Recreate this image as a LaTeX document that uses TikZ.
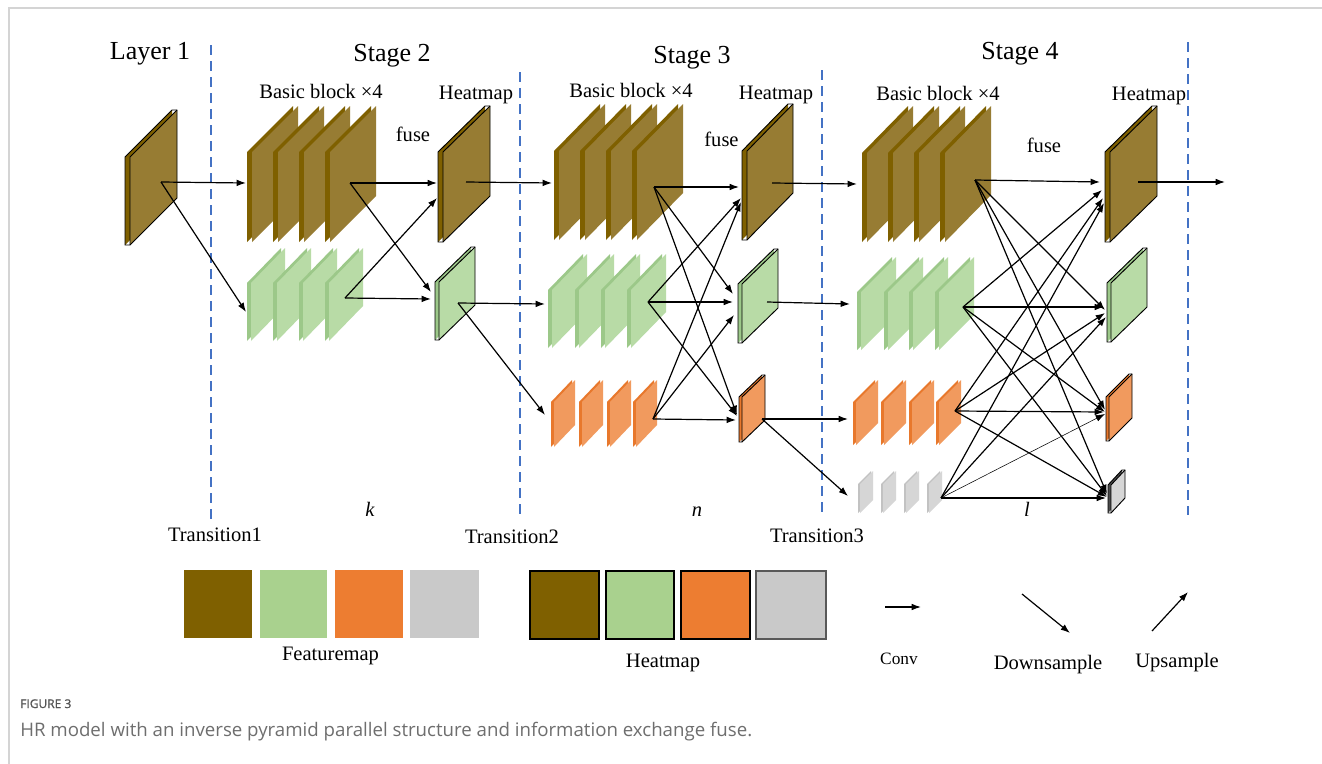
\documentclass[tikz,border=0pt]{standalone}
\usepackage{fontspec}
\setmainfont{Liberation Serif}
\newfontfamily\capfont{Open Sans}
\newfontfamily\capfontb[FakeBold=1.2]{Open Sans}
\usetikzlibrary{arrows.meta}
\definecolor{brF}{HTML}{977C33}
\definecolor{brS}{HTML}{7F6000}
\definecolor{grF}{HTML}{B8DBA6}
\definecolor{grS}{HTML}{9CC889}
\definecolor{orF}{HTML}{F19A5E}
\definecolor{orS}{HTML}{E8782C}
\definecolor{gyF}{HTML}{D6D6D6}
\definecolor{gyS}{HTML}{C2C2C2}
\definecolor{brL}{HTML}{7F6000}
\definecolor{grL}{HTML}{A9D18E}
\definecolor{orL}{HTML}{ED7D31}
\definecolor{gyL}{HTML}{C9C9C9}
\definecolor{dashblue}{HTML}{4472C4}
\definecolor{framegray}{HTML}{D4D4D4}
\definecolor{capgray}{HTML}{6E6E6E}
\definecolor{figgray}{HTML}{555555}

% feature-map plate: x0, ybottom, width, height, rise, thickness, face, strip
\newcommand{\fmplate}[8]{%
  \fill[#8] (#1,#2) -- ++(0,-#4) -- ++(#3-#6,-#5) -- ++(0,#4) -- cycle;
  \fill[#7] (#1+#6,#2) -- ++(0,-#4) -- ++(#3-#6,-#5) -- ++(0,#4) -- cycle;
}
% heatmap plate with black outline
\newcommand{\hmplate}[8]{%
  \fmplate{#1}{#2}{#3}{#4}{#5}{#6}{#7}{#8}
  \draw[hmline] (#1,#2) -- ++(0,-#4) -- ++(#3-#6,-#5) -- ++(#6,0) -- ++(0,#4) -- (#1+#6,#2) -- cycle;
  \draw[hmline] (#1+#6,#2) -- ++(0,-#4) -- ++(#3-#6,-#5);
}

\tikzset{
  hmline/.style={draw=black, line width=0.7pt, line join=miter},
  arr/.style={-{Latex[length=7pt,width=5pt]}, line width=0.9pt},
  dashline/.style={draw=dashblue, line width=0.9pt, dash pattern=on 7.5pt off 4.5pt},
  ttl/.style={font=\fontsize{19.5}{22}\selectfont, inner sep=0pt, anchor=base},
  lbl/.style={font=\fontsize{15.4}{18}\selectfont, inner sep=0pt, anchor=base},
  small/.style={font=\fontsize{13}{15}\selectfont, inner sep=0pt, anchor=base},
}

\begin{document}
\begin{tikzpicture}[x=0.75pt,y=-0.75pt]
\fill[white] (0,0) rectangle (1322,764);
\useasboundingbox (0,0) rectangle (1322,764);
\draw[framegray, line width=1.5pt] (8.5,764) -- (8.5,7.5) -- (1322,7.5);

% dashed stage separators
\draw[dashline] (211,45) -- (211,521);
\draw[dashline] (520,72) -- (520,517);
\draw[dashline] (822,70) -- (822,515);
\draw[dashline] (1188,42) -- (1188,515);

% ---------- Layer 1 ----------
\hmplate{125}{245}{52}{88}{47}{5}{brF}{brS}

% ---------- Stage 2 ----------
\foreach \xx in {247,273,299,325} {\fmplate{\xx}{242}{51}{90}{46}{5}{brF}{brS}}
\foreach \xx in {247,273,299,325} {\fmplate{\xx}{341}{38}{58}{35}{4}{grF}{grS}}
\hmplate{438}{242}{52}{90}{46}{5}{brF}{brS}
\hmplate{435}{340}{40}{58}{35}{4}{grF}{grS}

% ---------- Stage 3 ----------
\foreach \xx in {554,580,606,632} {\fmplate{\xx}{240}{51}{89}{47}{5}{brF}{brS}}
\foreach \xx in {548,575,601,627} {\fmplate{\xx}{348}{39}{58}{36}{4}{grF}{grS}}
\foreach \xx in {551,579,607,633} {\fmplate{\xx}{447}{24}{45}{22}{3}{orF}{orS}}
\hmplate{742}{240}{51}{89}{47}{5}{brF}{brS}
\hmplate{738}{343}{40}{59}{35}{4}{grF}{grS}
\hmplate{739}{442}{26}{45}{22}{3}{orF}{orS}

% ---------- Stage 4 ----------
\foreach \xx in {862,888,914,940} {\fmplate{\xx}{242}{51}{89}{47}{5}{brF}{brS}}
\foreach \xx in {857,884,909,935} {\fmplate{\xx}{350}{39}{58}{35}{4}{grF}{grS}}
\foreach \xx in {853,881,909,936} {\fmplate{\xx}{445}{25}{43}{22}{3}{orF}{orS}}
\foreach \xx in {858,881,904,927} {\fmplate{\xx}{513}{15}{29}{13}{2}{gyF}{gyS}}
\hmplate{1105}{242}{52}{90}{46}{5}{brF}{brS}
\hmplate{1107}{342}{40}{59}{35}{4}{grF}{grS}
\hmplate{1106}{441}{26}{44}{23}{3}{orF}{orS}
\hmplate{1108}{513}{17}{28}{15}{3}{gyF}{black!70}

% ---------- connector end points ----------
\coordinate (L1c) at (161,182);
\coordinate (s2bIn) at (246,183);
\coordinate (s2gIn) at (246,312);
\coordinate (s2bOut) at (350,183);
\coordinate (s2gOut) at (345,298);
\coordinate (h2bIn) at (437,183);
\coordinate (h2bUp) at (437,198);
\coordinate (h2gIn) at (431,299);
\coordinate (h2gDn) at (431,292);
\coordinate (h2bc) at (466,182);
\coordinate (h2gc) at (458,303);

\coordinate (s3bIn) at (552,183);
\coordinate (s3gIn) at (545,304);
\coordinate (s3oIn) at (545,415);
\coordinate (s3b) at (654,187);
\coordinate (s3g) at (648,302);
\coordinate (s3o) at (653,419);
\coordinate (h3bB) at (739,187);
\coordinate (h3bG) at (741,198);
\coordinate (h3bO) at (741,202);
\coordinate (h3gB) at (733,294);
\coordinate (h3gG) at (733,302);
\coordinate (h3gO) at (734,315);
\coordinate (h3oB) at (737,415);
\coordinate (h3oG) at (737,416);
\coordinate (h3oO) at (736,420);
\coordinate (h3bc) at (772,183);
\coordinate (h3gc) at (767,302);
\coordinate (h3oc) at (762,419);

\coordinate (s4bIn) at (857,184);
\coordinate (s4gIn) at (850,304);
\coordinate (s4oIn) at (848,419);
\coordinate (s4yIn) at (848,496);
\coordinate (s4b) at (975,180);
\coordinate (s4g) at (963,307);
\coordinate (s4o) at (955,411);
\coordinate (s4y) at (941,498);
\coordinate (tb1) at (1100,182);
\coordinate (tb2) at (1102,190);
\coordinate (tb3) at (1103,198);
\coordinate (tb4) at (1104,203);
\coordinate (tg1) at (1105,310);
\coordinate (tg2) at (1104,307);
\coordinate (tg3) at (1105,313);
\coordinate (tg4) at (1106,317);
\coordinate (to1) at (1105,410);
\coordinate (to2) at (1105,412);
\coordinate (to3) at (1104,412);
\coordinate (to4) at (1105,414);
\coordinate (ty1) at (1107,494);
\coordinate (ty2) at (1107,496);
\coordinate (ty3) at (1107,497);
\coordinate (ty4) at (1106,498);
\coordinate (h4bc) at (1138,182);
\coordinate (outE) at (1225,182);

% ---------- connectors ----------
\draw[arr] (L1c) -- (s2bIn);
\draw[arr] (L1c) -- (s2gIn);
\draw[arr] (s2bOut) -- (h2bIn);
\draw[arr] (s2bOut) -- (h2gDn);
\draw[arr] (s2gOut) -- (h2gIn);
\draw[arr] (s2gOut) -- (h2bUp);
\draw[arr] (h2bc) -- (s3bIn);
\draw[arr] (h2gc) -- (s3gIn);
\draw[arr] (h2gc) -- (s3oIn);

\draw[arr] (s3b) -- (h3bB);
\draw[arr] (s3b) -- (h3gB);
\draw[arr] (s3b) -- (h3oB);
\draw[arr] (s3g) -- (h3bG);
\draw[arr] (s3g) -- (h3gG);
\draw[arr] (s3g) -- (h3oG);
\draw[arr] (s3o) -- (h3bO);
\draw[arr] (s3o) -- (h3gO);
\draw[arr] (s3o) -- (h3oO);
\draw[arr] (h3bc) -- (s4bIn);
\draw[arr] (h3gc) -- (s4gIn);
\draw[arr] (h3oc) -- (s4oIn);
\draw[arr] (h3oc) -- (s4yIn);

\draw[arr] (s4b) -- (tb1);
\draw[arr] (s4b) -- (tg1);
\draw[arr] (s4b) -- (to1);
\draw[arr] (s4b) -- (ty1);
\draw[arr] (s4g) -- (tb2);
\draw[arr] (s4g) -- (tg2);
\draw[arr] (s4g) -- (to2);
\draw[arr] (s4g) -- (ty2);
\draw[arr] (s4o) -- (tb3);
\draw[arr] (s4o) -- (tg3);
\draw[arr] (s4o) -- (to3);
\draw[arr] (s4o) -- (ty3);
\draw[arr] (s4y) -- (tb4);
\draw[arr] (s4y) -- (tg4);
\draw[arr, line width=0.4pt] (s4y) -- (to4);
\draw[arr] (s4y) -- (ty4);
\draw[arr] (h4bc) -- (outE);

% ---------- labels ----------
\node[ttl] (tLayer) at (150,59) {Layer 1};
\node[ttl] (tS2) at (392,61) {Stage 2};
\node[ttl] (tS3) at (692,63) {Stage 3};
\node[ttl] (tS4) at (1020,59) {Stage 4};
\node[lbl] (bb2) at (321,98.5) {Basic block ×4};
\node[lbl] (bb3) at (631,97) {Basic block ×4};
\node[lbl] (bb4) at (938,100.7) {Basic block ×4};
\node[lbl] (hm2) at (476,99.3) {Heatmap};
\node[lbl] (hm3) at (776,99.3) {Heatmap};
\node[lbl] (hm4) at (1149,100) {Heatmap};
\node[lbl] (fu2) at (413,141.7) {fuse};
\node[lbl] (fu3) at (721.5,146.7) {fuse};
\node[lbl] (fu4) at (1044,152.7) {fuse};
\node[lbl] (kk) at (370,516) {\textit{k}};
\node[lbl] (nn) at (697,516.7) {\textit{n}};
\node[lbl] (ll) at (1027,516.7) {\textit{l}};
\node[lbl] (tr1) at (215,541) {Transition1};
\node[lbl] (tr2) at (512,543.3) {Transition2};
\node[lbl] (tr3) at (817,542.7) {Transition3};

% ---------- legend ----------
\fill[brL] (184,570) rectangle (252,637.7);
\fill[grL] (260,570) rectangle (327,637.7);
\fill[orL] (335,570) rectangle (403,637.7);
\fill[gyL] (410,570) rectangle (479,637.7);
\node[lbl] (lfm) at (330.5,660) {Featuremap};
\draw[fill=brL, line width=1pt] (530,571) rectangle (599,639);
\draw[fill=grL, line width=1pt] (606,571) rectangle (674,639);
\draw[fill=orL, line width=1pt] (681,571) rectangle (750,639);
\draw[fill=gyL, draw=black!65, line width=1.3pt] (756,571) rectangle (826,639);
\node[lbl] (lhm) at (663,667) {Heatmap};

\coordinate (c1) at (885,607);
\coordinate (c2) at (921,607);
\coordinate (d1) at (1022,594);
\coordinate (d2) at (1070,633);
\coordinate (u1) at (1152,631);
\coordinate (u2) at (1188,592);
\draw[arr] (c1) -- (c2);
\draw[arr] (d1) -- (d2);
\draw[arr] (u1) -- (u2);
\node[small] (lconv) at (899,664) {Conv};
\node[lbl] (ldown) at (1048,669) {Downsample};
\node[lbl] (lup) at (1177,667) {Upsample};

% ---------- caption ----------
\node[anchor=base west, inner sep=0pt, font=\capfontb\fontsize{9}{11}\selectfont, text=figgray] (figno) at (20,708) {FIGURE 3};
\node[anchor=base west, inner sep=0pt, font=\capfont\fontsize{14}{16}\selectfont, text=capgray] (figcap) at (20,736.5) {HR model with an inverse pyramid parallel structure and information exchange fuse.};
\end{tikzpicture}
\end{document}
